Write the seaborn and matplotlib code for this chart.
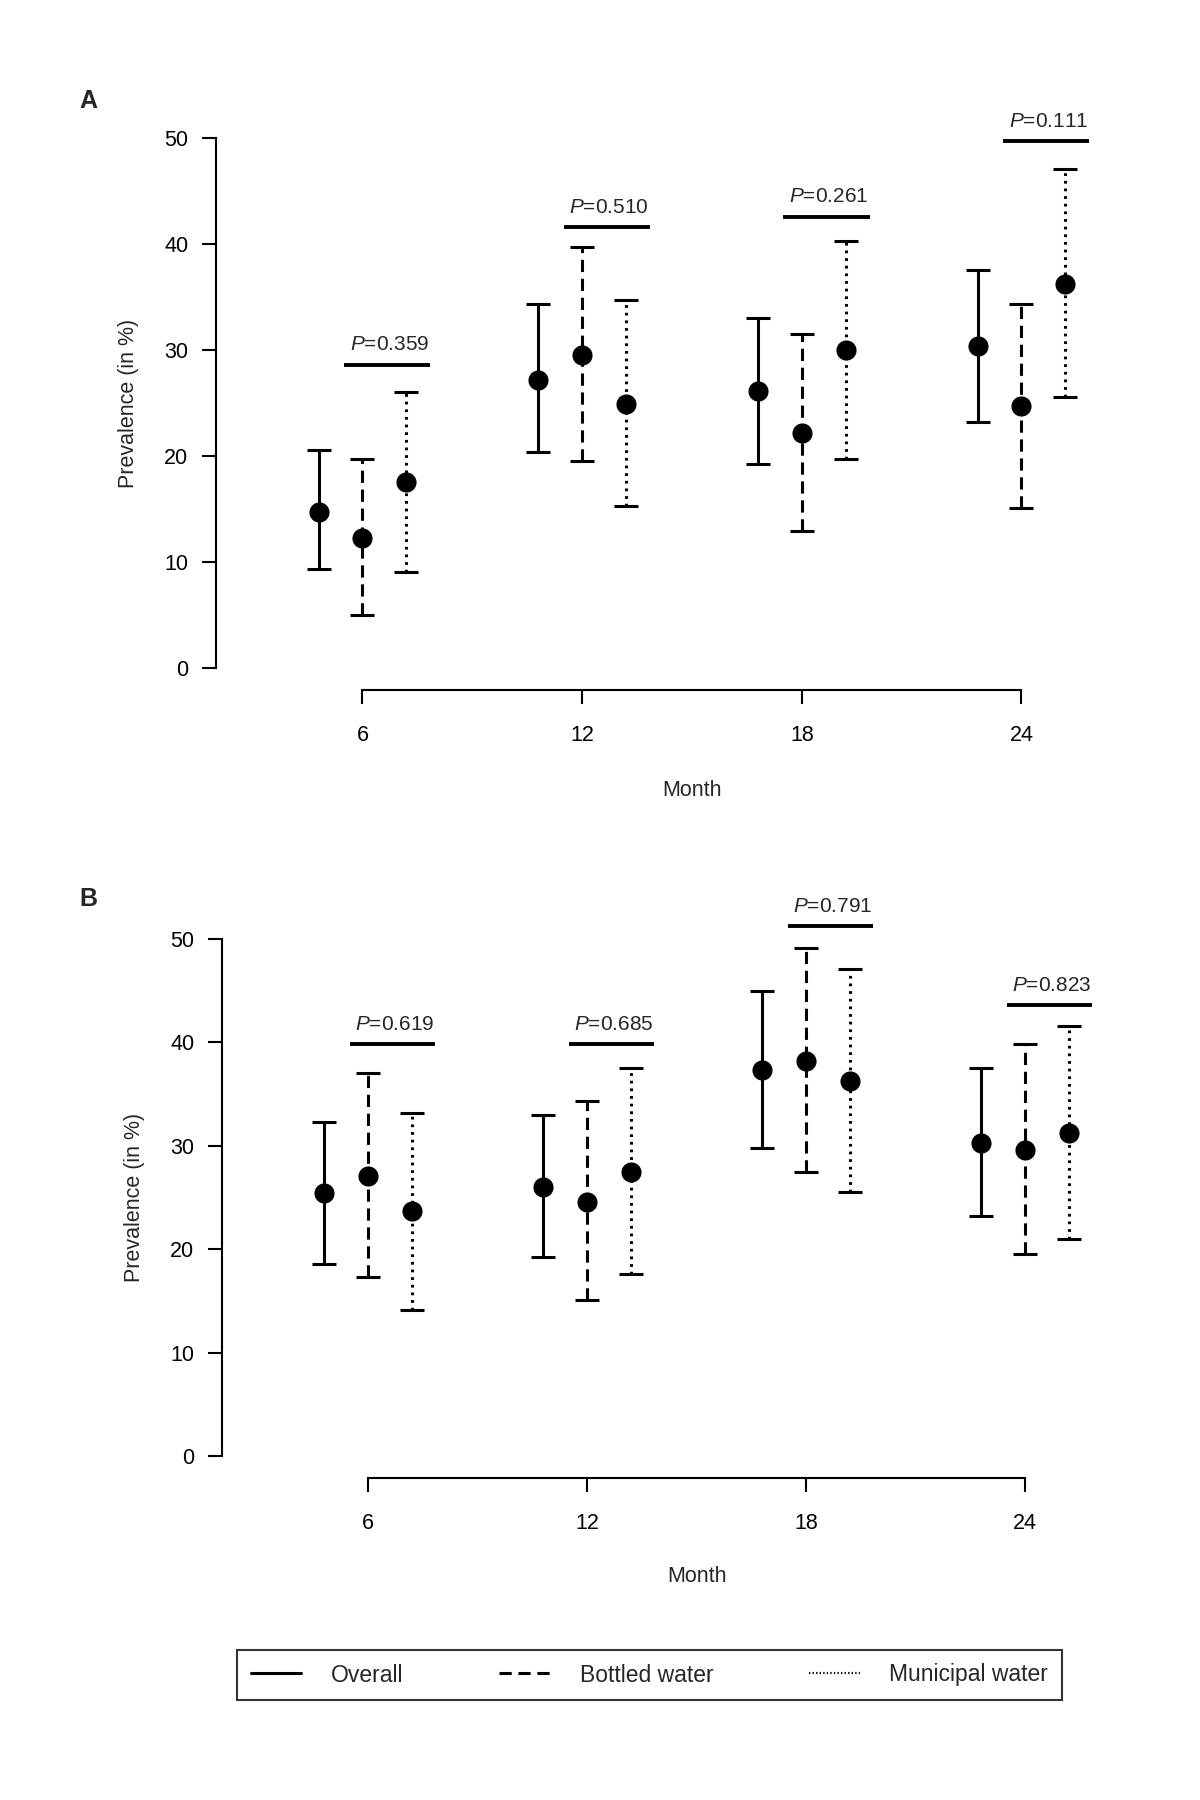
import numpy as np
import pandas as pd
import seaborn as sns
import matplotlib.pyplot as plt
from matplotlib.lines import Line2D

# Valores
months = [6, 12, 18, 24]
groups = ["Overall", "Bottled water", "Municipal water"]

a_overall = [14.7, 27.2, 26.1, 30.4]
a_overall_lo = [9.3, 20.4, 19.2, 23.2]
a_overall_hi = [20.6, 34.3, 33.0, 37.6]
a_bottled = [12.2, 29.5, 22.2, 24.7]
a_bottled_lo = [5.0, 19.5, 12.9, 15.1]
a_bottled_hi = [19.7, 39.7, 31.5, 34.3]
a_municipal = [17.5, 24.9, 30.0, 36.2]
a_municipal_lo = [9.0, 15.3, 19.7, 25.6]
a_municipal_hi = [26.0, 34.7, 40.3, 47.1]
a_pvalues = ["0.359", "0.510", "0.261", "0.111"]
a_pbar_y = [28.6, 41.6, 42.6, 49.7]

b_overall = [25.4, 26.0, 37.3, 30.3]
b_overall_lo = [18.6, 19.2, 29.8, 23.2]
b_overall_hi = [32.3, 33.0, 44.9, 37.5]
b_bottled = [27.1, 24.6, 38.2, 29.6]
b_bottled_lo = [17.3, 15.1, 27.5, 19.5]
b_bottled_hi = [37.0, 34.3, 49.1, 39.8]
b_municipal = [23.7, 27.5, 36.2, 31.2]
b_municipal_lo = [14.1, 17.6, 25.5, 21.0]
b_municipal_hi = [33.2, 37.5, 47.1, 41.6]
b_pvalues = ["0.619", "0.685", "0.791", "0.823"]
b_pbar_y = [39.8, 39.8, 51.2, 43.6]

sns.set_style("ticks")
plt.rcParams["font.family"] = ["Liberation Sans", "DejaVu Sans"]
plt.rcParams["mathtext.fontset"] = "custom"
plt.rcParams["mathtext.it"] = "Liberation Sans:italic"
plt.rcParams["mathtext.rm"] = "Liberation Sans"

offsets = {"Overall": -1.2, "Bottled water": 0.0, "Municipal water": 1.2}
styles = {"Overall": "-", "Bottled water": (0, (4.0, 2.2)), "Municipal water": (0, (0.9, 1.6))}


def build_df(est, lo, hi):
    rows = []
    for g, e, l, h in zip(groups, est, lo, hi):
        for m, ee, ll, hh in zip(months, e, l, h):
            rows.append({"group": g, "month": m, "x": m + offsets[g],
                         "est": ee, "lo": ll, "hi": hh})
    return pd.DataFrame(rows)


df_a = build_df([a_overall, a_bottled, a_municipal],
                [a_overall_lo, a_bottled_lo, a_municipal_lo],
                [a_overall_hi, a_bottled_hi, a_municipal_hi])
df_b = build_df([b_overall, b_bottled, b_municipal],
                [b_overall_lo, b_bottled_lo, b_municipal_lo],
                [b_overall_hi, b_bottled_hi, b_municipal_hi])

fig = plt.figure(figsize=(12, 18), dpi=100)
ax_a = fig.add_axes([0.18, 0.6167, 0.7475, 0.3183])
ax_b = fig.add_axes([0.185, 0.179, 0.745, 0.311])


def draw_panel(ax, df, pvals, pbar_y):
    for g in groups:
        sub = df[df["group"] == g]
        eb = ax.errorbar(sub["x"], sub["est"],
                         yerr=[sub["est"] - sub["lo"], sub["hi"] - sub["est"]],
                         fmt="none", ecolor="black", elinewidth=2.2,
                         capsize=8.5, capthick=2.2)
        eb[2][0].set_linestyle(styles[g])
    sns.scatterplot(data=df, x="x", y="est", ax=ax, color="black", s=210,
                    edgecolor="black", linewidth=0, legend=False, zorder=5)
    for m, p, yb in zip(months, pvals, pbar_y):
        ax.plot([m - 0.5, m + 1.85], [yb, yb], color="black", lw=2.8,
                solid_capstyle="butt", clip_on=False)
        ax.text(m + 0.74, yb + 1.0, r"$\it{P}$=" + p, ha="center", va="bottom",
                fontsize=15, clip_on=False)
    ax.set_xlim(2, 26.5)
    ax.set_ylim(-2.1, 52)
    ax.set_xticks(months)
    ax.set_yticks([0, 10, 20, 30, 40, 50])
    ax.spines["top"].set_visible(False)
    ax.spines["right"].set_visible(False)
    ax.spines["left"].set_bounds(0, 50)
    ax.spines["bottom"].set_bounds(6, 24)
    for s in ["left", "bottom"]:
        ax.spines[s].set_linewidth(1.5)
        ax.spines[s].set_color("black")
    ax.tick_params(axis="x", length=10, width=1.5, pad=15, labelsize=15.5, colors="black")
    ax.tick_params(axis="y", length=10, width=1.5, pad=10, labelsize=15.5, colors="black")
    ax.set_xlabel("Month", fontsize=15.5)
    ax.set_ylabel("Prevalence (in %)", fontsize=15.5)
    ax.xaxis.set_label_coords(0.531, -0.158)
    ax.yaxis.set_label_coords(-0.086, 0.5)


draw_panel(ax_a, df_a, a_pvalues, a_pbar_y)
draw_panel(ax_b, df_b, b_pvalues, b_pbar_y)

fig.text(88 / 1200, 1 - 101 / 1800, "A", fontsize=18, fontweight="bold",
         ha="center", va="center")
fig.text(88 / 1200, 1 - 899 / 1800, "B", fontsize=18, fontweight="bold",
         ha="center", va="center")

handles = [Line2D([], [], color="black", lw=2.2, linestyle=styles[g]) for g in groups]
handles[2].set_linestyle((0, (0.6, 1.0)))
handles[2].set_linewidth(1.6)
leg = fig.legend(handles, groups, loc="center", ncol=3, mode="expand",
                 bbox_to_anchor=(237 / 1200, 1 - 1699 / 1800, 825 / 1200, 48 / 1800),
                 frameon=True, fancybox=False, edgecolor="black",
                 handlelength=2.2, handletextpad=1.3, borderpad=0.6,
                 borderaxespad=0, prop={"size": 16.5})
leg.get_frame().set_linewidth(1.5)

plt.savefig("out.png", dpi=100, facecolor="white")
plt.close()
